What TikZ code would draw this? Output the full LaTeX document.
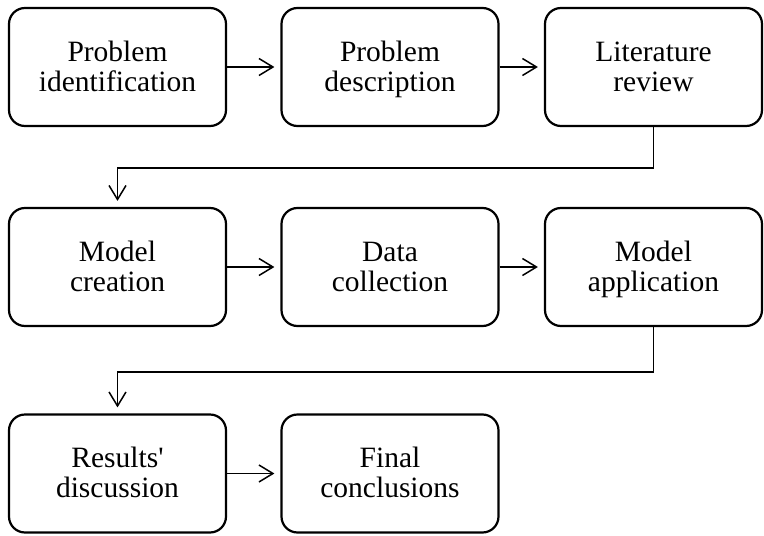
\documentclass[tikz,border=0pt]{standalone}
\usepackage{fontspec}
\setmainfont{Liberation Serif}
\usetikzlibrary{arrows.meta}
% fixed top height and bottom depth so every label sits at the same baselines
\newcommand\topstrut{\rule{0pt}{26pt}}
\newcommand\botstrut{\rule[-8pt]{0pt}{8pt}}
\newcommand\twolines[2]{\topstrut#1\\#2\botstrut}
\begin{document}
\begin{tikzpicture}[x=1pt,y=-1pt,
  stage/.style={draw, line width=2.2pt, rounded corners=16pt,
    minimum width=217pt, minimum height=118pt, align=center,
    font=\fontsize{29.5}{30}\selectfont, inner sep=0pt},
  flow/.style={line width=1.5pt,
    -{Straight Barb[length=14pt,width=17pt,line width=1.5pt]},
    shorten >=6pt}]
\useasboundingbox (0,0) rectangle (764,536);

% first row
\node[stage] (p1) at (117.5,67) {\twolines{Problem}{identification}};
\node[stage] (p2) at (390,67) {\twolines{Problem}{description}};
\node[stage] (p3) at (653.5,67) {\twolines{Literature}{review}};
% second row
\node[stage] (m1) at (117.5,267) {\twolines{Model}{creation}};
\node[stage] (m2) at (390,267) {\twolines{Data}{collection}};
\node[stage] (m3) at (653.5,267) {\twolines{Model}{application}};
% third row
\node[stage] (r1) at (117.5,473.5) {\twolines{Results\textquotesingle}{discussion}};
\node[stage] (r2) at (390,473.5) {\twolines{Final}{conclusions}};

% bends between rows
\coordinate (k1) at (117.5,168);
\coordinate (k2) at (117.5,372);

\draw[flow] (p1) -- (p2);
\draw[flow] (p2) -- (p3);
\draw[flow] (p3.south) |- (k1) -- (m1.north);
\draw[flow] (m1) -- (m2);
\draw[flow] (m2) -- (m3);
\draw[flow] (m3.south) |- (k2) -- (r1.north);
\draw[flow] (r1) -- (r2);
\end{tikzpicture}
\end{document}
